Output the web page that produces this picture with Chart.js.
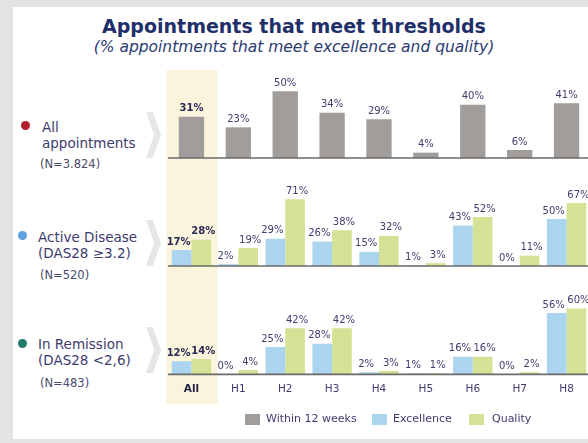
<!DOCTYPE html>
<html lang="en">
<head>
  <meta charset="UTF-8" />
  <title>Appointments that meet thresholds</title>
  <script src="https://cdn.jsdelivr.net/npm/chart.js"></script>
  <style>
    body {
      margin: 0;
      width: 588px;
      height: 443px;
      overflow: hidden;
      background: #e3e3e1;
      font-family: "DejaVu Sans", Verdana, sans-serif;
      position: relative;
    }
    #frame {
      position: absolute;
      left: 13px;
      top: 7px;
      width: 600px;
      height: 432px;
      background: #ffffff;
    }
    .abs { position: absolute; white-space: nowrap; }
    .title {
      left: 0; width: 588px; top: 15px;
      text-align: center;
      font-size: 19px; font-weight: bold; color: #1f2f6a;
    }
    .sub {
      left: 0; width: 588px; top: 38px;
      text-align: center;
      font-size: 15.5px; font-style: italic; color: #2c3a72;
    }
    .lbl { font-size: 13.5px; color: #3d3b6e; line-height: 16px; }
    .n { font-size: 11.5px; color: #4a4a6a; }
    .dot { width: 9px; height: 9px; border-radius: 50%; }
    .chev {
      width: 15px; height: 46px; background: #e6e6e6;
      clip-path: polygon(0 0, 45% 0, 100% 50%, 45% 100%, 0 100%, 55% 50%);
    }
    canvas { position: absolute; left: 160px; }
    .leg { font-size: 11px; color: #3d3b6e; }
    .sw { width: 15px; height: 11px; }
  </style>
</head>
<body>
  <div id="frame"></div>
  <div class="abs title">Appointments that meet thresholds</div>
  <div class="abs sub">(% appointments that meet excellence and quality)</div>

  <!-- row labels -->
  <div class="abs dot" style="left:21px; top:121px; background:#b1202c;"></div>
  <div class="abs lbl" style="left:42px; top:119px;">All<br>appointments</div>
  <div class="abs n" style="left:40px; top:157px;">(N=3.824)</div>
  <div class="abs chev" style="left:146px; top:112px;"></div>

  <div class="abs dot" style="left:18px; top:231px; background:#5da2dc;"></div>
  <div class="abs lbl" style="left:38px; top:229px;">Active Disease<br>(DAS28 ≥3.2)</div>
  <div class="abs n" style="left:40px; top:268px;">(N=520)</div>
  <div class="abs chev" style="left:146px; top:220px;"></div>

  <div class="abs dot" style="left:18px; top:339px; background:#1f7b6b;"></div>
  <div class="abs lbl" style="left:38px; top:336px;">In Remission<br>(DAS28 &lt;2,6)</div>
  <div class="abs n" style="left:40px; top:376px;">(N=483)</div>
  <div class="abs chev" style="left:146px; top:327px;"></div>

  <canvas id="c1" width="430" height="100" style="top:70px;"></canvas>
  <canvas id="c2" width="430" height="110" style="top:170px;"></canvas>
  <canvas id="c3" width="430" height="145" style="top:280px;"></canvas>

  <!-- legend -->
  <div class="abs sw" style="left:245px; top:414px; background:#a09d9a;"></div>
  <div class="abs leg" style="left:266px; top:412px;">Within 12 weeks</div>
  <div class="abs sw" style="left:372px; top:414px; background:#abd4ee;"></div>
  <div class="abs leg" style="left:393px; top:412px;">Excellence</div>
  <div class="abs sw" style="left:469px; top:414px; background:#d5e194;"></div>
  <div class="abs leg" style="left:492px; top:412px;">Quality</div>

  <script>
    const categories = ['All', 'H1', 'H2', 'H3', 'H4', 'H5', 'H6', 'H7', 'H8'];
    const within12Weeks = [31, 23, 50, 34, 29, 4, 40, 6, 41];
    const activeExcellence = [17, 2, 29, 26, 15, 1, 43, 0, 50];
    const activeQuality = [28, 19, 71, 38, 32, 3, 52, 11, 67];
    const remissionExcellence = [12, 0, 25, 28, 2, 1, 16, 0, 56];
    const remissionQuality = [14, 4, 42, 42, 3, 1, 16, 2, 60];

    const GRAY = '#a09d9a';
    const BLUE = '#abd4ee';
    const GREEN = '#d5e194';
    const BAND = '#fbf4dc';
    const TEXT = '#3e3d6e';

    // cream column behind "All" (drawn before the axes) + dark baseline at 0
    const bandPlugin = {
      id: 'band',
      beforeDraw(chart, args, opts) {
        const { ctx, chartArea } = chart;
        const cx = chart.scales.x.getPixelForValue(0);
        const top = opts.fromArea ? chartArea.top : 0;
        const bottom = opts.extra != null ? chartArea.bottom + opts.extra : chart.height;
        ctx.save();
        ctx.fillStyle = BAND;
        ctx.fillRect(cx - 25, top, 51, bottom - top);
        ctx.restore();
      },
      afterDatasetsDraw(chart) {
        const { ctx, chartArea } = chart;
        const y0 = chart.scales.y.getPixelForValue(0);
        ctx.save();
        ctx.strokeStyle = '#6a6a6a';
        ctx.lineWidth = 1.6;
        ctx.beginPath();
        ctx.moveTo(chartArea.left, y0);
        ctx.lineTo(chartArea.right, y0);
        ctx.stroke();
        ctx.restore();
      }
    };

    // percentage labels above every bar
    const valueLabels = {
      id: 'valueLabels',
      afterDraw(chart) {
        const { ctx } = chart;
        const grouped = chart.data.datasets.length > 1;
        ctx.save();
        ctx.textAlign = 'center';
        ctx.textBaseline = 'bottom';
        chart.data.datasets.forEach((ds, di) => {
          const shift = grouped ? (di === 0 ? -3 : 2) : 0;
          chart.getDatasetMeta(di).data.forEach((bar, i) => {
            ctx.font = (i === 0 ? 'bold ' : '') + '10px "DejaVu Sans"';
            ctx.fillStyle = i === 0 ? '#2a2a55' : TEXT;
            ctx.fillText(ds.data[i] + '%', bar.x + shift, bar.y - 3);
          });
        });
        ctx.restore();
      }
    };

    function makeChart(id, datasets, max, band, showTicks) {
      return new Chart(document.getElementById(id), {
        type: 'bar',
        data: { labels: categories, datasets: datasets },
        plugins: [bandPlugin, valueLabels],
        options: {
          responsive: false,
          animation: false,
          layout: { padding: { left: 8, right: 0, top: 0, bottom: band.bottomPad } },
          plugins: {
            legend: { display: false },
            tooltip: { enabled: false },
            band: band
          },
          scales: {
            x: {
              display: showTicks,
              grid: { display: false, drawTicks: false },
              border: { display: false },
              ticks: {
                padding: 9,
                color: (c) => c.index === 0 ? '#222244' : TEXT,
                font: (c) => ({ family: '"DejaVu Sans"', size: 10.5, weight: c.index === 0 ? 'bold' : 'normal' })
              }
            },
            y: { display: false, min: 0, max: max }
          }
        }
      });
    }

    makeChart('c1', [
      { label: 'Within 12 weeks', data: within12Weeks, backgroundColor: GRAY, barPercentage: 0.6, categoryPercentage: 0.9 }
    ], 66, { fromArea: true, bottomPad: 12 }, false);

    makeChart('c2', [
      { label: 'Excellence', data: activeExcellence, backgroundColor: BLUE, barPercentage: 1, categoryPercentage: 0.84 },
      { label: 'Quality', data: activeQuality, backgroundColor: GREEN, barPercentage: 1, categoryPercentage: 0.84 }
    ], 102, { fromArea: false, bottomPad: 14 }, false);

    makeChart('c3', [
      { label: 'Excellence', data: remissionExcellence, backgroundColor: BLUE, barPercentage: 1, categoryPercentage: 0.84 },
      { label: 'Quality', data: remissionQuality, backgroundColor: GREEN, barPercentage: 1, categoryPercentage: 0.84 }
    ], 86, { fromArea: false, extra: 30, bottomPad: 20 }, true);
  </script>
</body>
</html>
